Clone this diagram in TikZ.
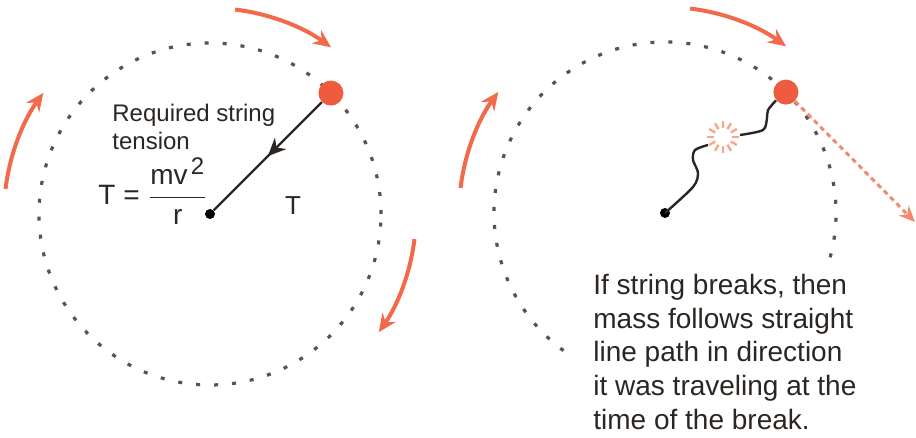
\documentclass[tikz,border=0pt]{standalone}
\usepackage{amsmath}
\usepackage{fontspec}
\setmainfont{Liberation Sans}
\usetikzlibrary{arrows.meta,decorations.markings}
\definecolor{orbitred}{HTML}{F26A4B}
\definecolor{ballred}{HTML}{EE5B3E}
\definecolor{sparkred}{HTML}{F7A68A}
\definecolor{dotgray}{HTML}{5A534C}
\definecolor{inkdark}{HTML}{2B2622}
\newcommand{\orbitradius}{171}
\newcommand{\swirlradius}{206}
\newcommand{\swirltop}{\draw[swirl] (83:\swirlradius) arc (83:54:\swirlradius);}
\newcommand{\swirlleft}{\draw[swirl] (173:\swirlradius) arc (173:144:\swirlradius);}

\begin{document}
\begin{tikzpicture}[x=0.5pt, y=0.5pt,
  swirl/.style={orbitred, line width=2pt, -{Stealth[length=9pt,width=8pt,inset=3pt]}},
  orbit/.style={dotgray, line width=1.6pt, dash pattern=on 2pt off 7pt},
  ball/.style={circle, fill=ballred, inner sep=0pt, minimum size=12.5pt},
  hub/.style={circle, fill=black, inner sep=0pt, minimum size=5pt},
  cord/.style={inkdark, line width=1.2pt},
  spark/.style={sparkred, line width=1.2pt},
  tangent/.style={orbitred!80!white, line width=1.5pt, dash pattern=on 2.5pt off 2pt, -{Stealth[length=8pt,width=7pt]}},
  notetext/.style={inkdark, inner sep=0pt, align=left}]

  \useasboundingbox (0,0) rectangle (916,438);

  %% Left panel: string intact
  \begin{scope}[shift={(210,224)}]
    \draw[orbit] (0,0) circle (\orbitradius);
    \swirltop
    \swirlleft
    \draw[swirl] (-7:\swirlradius) arc (-7:-35:\swirlradius);
    \node[hub] (hubL) at (0,0) {};
    \node[ball] (massL) at (45:\orbitradius) {};
    \draw[cord, postaction={decorate}, decoration={markings, mark=at position 0.5 with {\arrow{Stealth[length=9pt,width=8pt]}}}] (massL) -- (hubL);
    \node[notetext, font=\fontsize{12}{14}\selectfont, anchor=north west] (tensionL) at (-98,110) {Required string\\tension};
    \node[notetext, font=\fontsize{14}{16}\selectfont, anchor=west] (formulaL) at (-112,23)
      {$\mathrm{T} \mathrel{\text{=}} \dfrac{\mathrm{mv}^{\,\text{\fontsize{12}{14}\selectfont 2}}}{\mathrm{r}}$};
    \node[notetext, font=\fontsize{13}{15}\selectfont] (forceL) at (83,8) {T};
  \end{scope}

  %% Right panel: string broken
  \begin{scope}[shift={(665,225)}]
    \draw[orbit] (-15:\orbitradius) arc (-15:238:\orbitradius);
    \swirltop
    \swirlleft
    \node[hub] (hubR) at (0,0) {};
    \node[ball] (massR) at (45:\orbitradius) {};
    \coordinate (snapR) at (58,76);
    \coordinate (flyR) at (250,-9);
    \foreach \a in {0,30,...,330}
      \draw[spark] ([shift={(\a:9)}]snapR) -- ([shift={(\a:16)}]snapR);
    \draw[cord] plot[smooth] coordinates {(hubR.center) (28,26) (33,40) (28,53) (30,63) (43,68)};
    \draw[cord] plot[smooth] coordinates {(75,78) (98,83) (102,95) (103,103) (massR.220)};
    \draw[tangent] (massR) -- (flyR);
    \node[notetext, font=\fontsize{14}{16.8}\selectfont, anchor=north west] (breakR) at (-72,-61) {If string breaks, then\\mass follows straight\\line path in direction\\it was traveling at the\\time of the break.};
  \end{scope}

\end{tikzpicture}
\end{document}
